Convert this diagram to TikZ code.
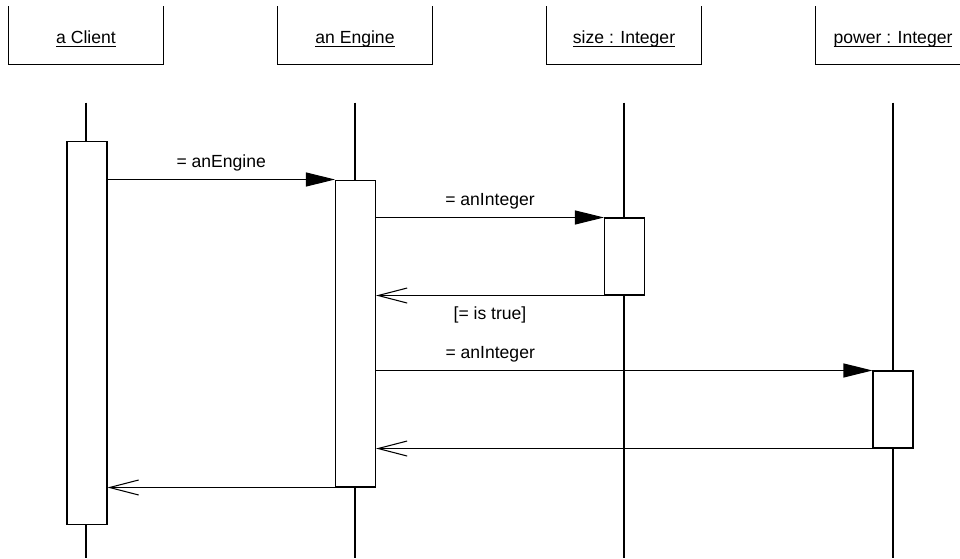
\documentclass[tikz,border=0pt]{standalone}
\usepackage{fontspec}
\setmainfont{Liberation Sans}
\usetikzlibrary{arrows.meta}
\newcommand{\objname}[1]{\rule{0pt}{11.4pt}\underline{\smash{#1}}}
\tikzset{
	head/.style={minimum width=3.08cm,minimum height=1.14cm,inner sep=0pt},
	act/.style={draw,fill=white,minimum width=0.8cm,inner sep=0pt},
	call/.style={-{Triangle[length=0.58cm,width=0.28cm]}},
	back/.style={-{Straight Barb[length=0.58cm,width=0.3cm]}}
}

\begin{document}
\begin{tikzpicture}[x=0.02cm,y=-0.02cm,line width=0.6pt,font=\fontsize{10}{12}\selectfont]
		\useasboundingbox (0,0) rectangle (960,558);
		%objects
		\node[head] (client) at (86,35.5) {\objname{a Client}};
		\node[head] (engine) at (355,35.5) {\objname{an Engine}};
		\node[head] (size) at (624,35.5) {\objname{size : Integer}};
		\node[head] (power) at (893,35.5) {\objname{power : Integer}};
		\foreach \n in {client,engine,size,power}{
			\draw (\n.north west) -- (\n.south west) -- (\n.south east) -- (\n.north east);
			\draw (\n.south) ++(0,38) -- (\n.south |- 0,558);
		}
		%activations
		\node[act,minimum height=7.68cm] (actC) at (87,333) {};
		\node[act,minimum height=6.14cm] (actE) at (355.5,333.5) {};
		\node[act,minimum height=1.54cm] (actS) at (624.5,256.5) {};
		\node[act,minimum height=1.54cm] (actP) at (893,409.5) {};
		%messages
		\draw[call] (actC.east |- actE.north west) -- (actE.north west)
		node[pos=0.5,above=1pt]{= anEngine};
		\draw[call] (actE.east |- actS.north west) -- (actS.north west)
		node[pos=0.5,above=1pt]{= anInteger};
		\draw[back] (actS.south west) -- (actE.east |- actS.south west)
		node[pos=0.5,below=3pt]{[= is true]};
		\draw[call] (actE.east |- actP.north west) -- (actP.north west)
		node[pos=0.23,above=1pt]{= anInteger};
		\draw[back] (actP.south west) -- (actE.east |- actP.south west);
		\draw[back] (actE.south west) -- (actC.east |- actE.south west);
\end{tikzpicture}
\end{document}
